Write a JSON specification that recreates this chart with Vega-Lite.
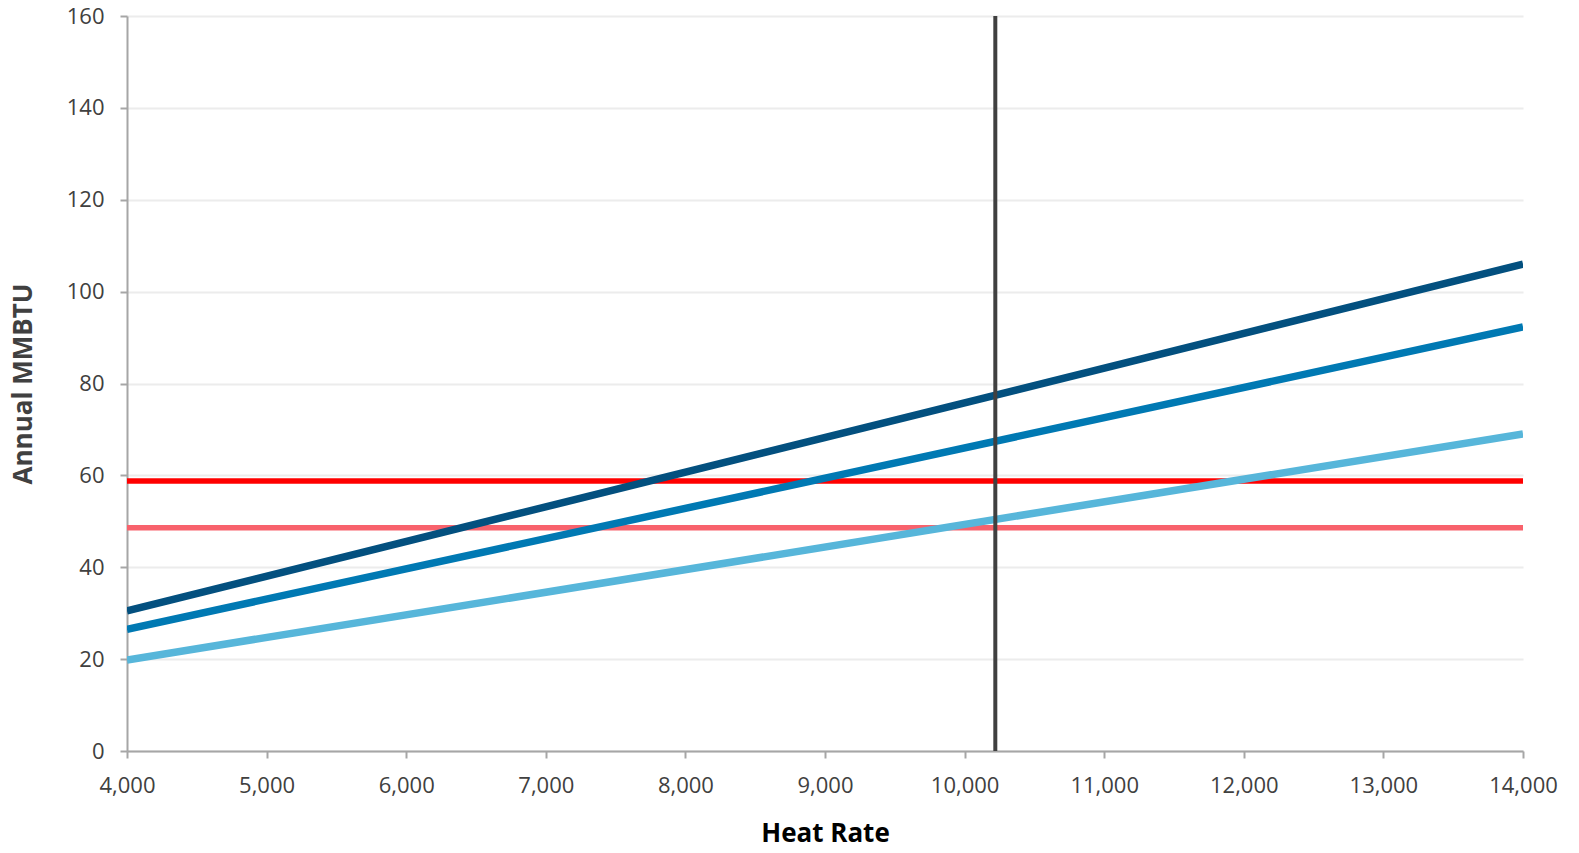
{
  "$schema": "https://vega.github.io/schema/vega-lite/v6.json",
  "autosize": {"type": "none"},
  "padding": {"left": 127, "top": 16, "right": 56, "bottom": 102},
  "width": 1396,
  "height": 735,
  "background": "white",
  "config": {"view": {"stroke": null}, "font": "Open Sans"},
  "datasets": {
    "lines": [
      {"series": "A", "heat_rate": 4000, "mmbtu": 30.5},
      {"series": "A", "heat_rate": 14000, "mmbtu": 106.0},
      {"series": "B", "heat_rate": 4000, "mmbtu": 26.5},
      {"series": "B", "heat_rate": 14000, "mmbtu": 92.3},
      {"series": "C", "heat_rate": 4000, "mmbtu": 19.8},
      {"series": "C", "heat_rate": 14000, "mmbtu": 69.0},
      {"series": "D", "heat_rate": 4000, "mmbtu": 58.8},
      {"series": "D", "heat_rate": 14000, "mmbtu": 58.8},
      {"series": "E", "heat_rate": 4000, "mmbtu": 48.6},
      {"series": "E", "heat_rate": 14000, "mmbtu": 48.6}
    ],
    "vline": [{"heat_rate": 10220}]
  },
  "layer": [
    {
      "data": {"name": "lines"},
      "transform": [{"filter": "datum.series == 'D' || datum.series == 'E'"}],
      "mark": {"type": "line", "strokeWidth": 5.5, "clip": true},
      "encoding": {
        "x": {"field": "heat_rate", "type": "quantitative",
              "scale": {"domain": [4000, 14000], "nice": false, "zero": false},
              "axis": {"title": "Heat Rate", "values": [4000,5000,6000,7000,8000,9000,10000,11000,12000,13000,14000],
                       "format": ",d", "grid": false, "domainColor": "#a6a6a6", "domainWidth": 2,
                       "tickColor": "#a6a6a6", "tickWidth": 2, "tickSize": 7, "labelFlush": false, "labelOverlap": false,
                       "labelFont": "Open Sans", "labelFontSize": 22, "labelColor": "#404040", "labelPadding": 17,
                       "titleFont": "Open Sans", "titleFontSize": 26, "titleFontWeight": "bold", "titleColor": "#000000", "titlePadding": 24}},
        "y": {"field": "mmbtu", "type": "quantitative",
              "scale": {"domain": [0, 160], "nice": false},
              "axis": {"title": "Annual MMBTU", "values": [0,20,40,60,80,100,120,140,160],
                       "grid": true, "gridColor": "#ececec", "gridWidth": 2, "labelFlush": false,
                       "domainColor": "#a6a6a6", "domainWidth": 2,
                       "tickColor": "#a6a6a6", "tickWidth": 2, "tickSize": 7,
                       "labelFont": "Open Sans", "labelFontSize": 22, "labelColor": "#404040", "labelPadding": 16,
                       "titleFont": "Open Sans", "titleFontSize": 26, "titleFontWeight": "bold", "titleColor": "#404040", "titlePadding": 30}},
        "color": {"field": "series", "type": "nominal",
                  "scale": {"domain": ["A","B","C","D","E"], "range": ["#03507f","#0079b3","#57b6da","#ff0000","#f8626c"]},
                  "legend": null}
      }
    },
    {
      "data": {"name": "lines"},
      "transform": [{"filter": "datum.series == 'A' || datum.series == 'B' || datum.series == 'C'"}],
      "mark": {"type": "line", "strokeWidth": 7.5, "clip": true},
      "encoding": {
        "x": {"field": "heat_rate", "type": "quantitative"},
        "y": {"field": "mmbtu", "type": "quantitative"},
        "color": {"field": "series", "type": "nominal", "legend": null}
      }
    },
    {
      "data": {"name": "vline"},
      "mark": {"type": "rule", "color": "#404040", "strokeWidth": 4},
      "encoding": {
        "x": {"field": "heat_rate", "type": "quantitative"}
      }
    }
  ]
}
